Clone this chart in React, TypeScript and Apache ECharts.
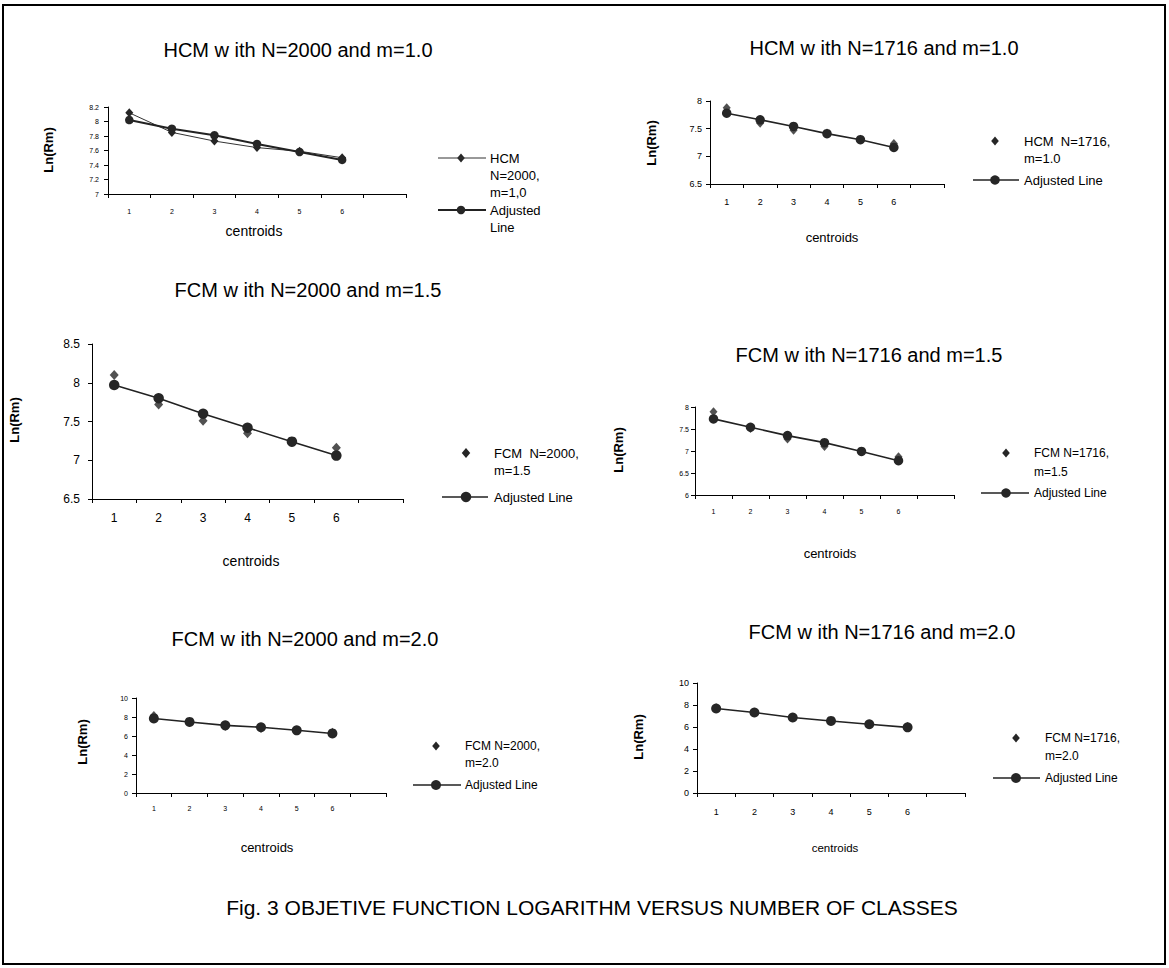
import React, { useEffect, useRef } from "react";
import * as echarts from "echarts";

// ---------- data ----------
const categories = ["1", "2", "3", "4", "5", "6", ""];

const hcmN2000m10 = [8.12, 7.85, 7.73, 7.64, 7.59, 7.5];
const adjN2000m10 = [8.02, 7.9, 7.81, 7.69, 7.58, 7.47];

const hcmN1716m10 = [7.88, 7.6, 7.47, 7.42, 7.31, 7.23];
const adjN1716m10 = [7.78, 7.66, 7.54, 7.41, 7.3, 7.16];

const fcmN2000m15 = [8.1, 7.72, 7.51, 7.35, 7.24, 7.16];
const adjN2000m15 = [7.97, 7.8, 7.6, 7.42, 7.24, 7.06];

const fcmN1716m15 = [7.89, 7.51, 7.27, 7.1, 6.99, 6.87];
const adjN1716m15 = [7.73, 7.54, 7.35, 7.19, 6.99, 6.78];

const fcmN2000m20 = [8.15, 7.45, 7.0, 6.8, 6.55, 6.4];
const adjN2000m20 = [7.85, 7.48, 7.12, 6.92, 6.6, 6.27];

const fcmN1716m20 = [7.75, 7.35, 6.85, 6.55, 6.25, 6.05];
const adjN1716m20 = [7.68, 7.32, 6.86, 6.55, 6.25, 5.97];

const titles = [
  "HCM w ith N=2000 and m=1.0",
  "HCM w ith N=1716 and m=1.0",
  "FCM w ith N=2000 and m=1.5",
  "FCM w ith N=1716 and m=1.5",
  "FCM w ith N=2000 and m=2.0",
  "FCM w ith N=1716 and m=2.0",
];
const pointNames = [
  ["HCM", "N=2000,", "m=1,0"],
  ["HCM  N=1716,", "m=1.0"],
  ["FCM  N=2000,", "m=1.5"],
  ["FCM N=1716,", "m=1.5"],
  ["FCM N=2000,", "m=2.0"],
  ["FCM N=1716,", "m=2.0"],
];
const adjustedName = "Adjusted Line";
const yName = "Ln(Rm)";
const xName = "centroids";
const caption = "Fig. 3 OBJETIVE FUNCTION LOGARITHM VERSUS NUMBER OF CLASSES";

const pointSeries = [hcmN2000m10, hcmN1716m10, fcmN2000m15, fcmN1716m15, fcmN2000m20, fcmN1716m20];
const adjustedSeries = [adjN2000m10, adjN1716m10, adjN2000m15, adjN1716m15, adjN2000m20, adjN1716m20];

// ---------- layout ----------
const FONT = "'Liberation Sans', Arial, Helvetica, sans-serif";
const INK = "#000";
const MARK = "#262626";

type Layout = {
  left: number; top: number; width: number; height: number;
  min: number; max: number; interval: number;
  axisFont: number; xMargin: number; yMargin: number;
  title: [number, number]; yLab: [number, number]; xLab: [number, number]; xLabFont: number;
  circle: number; dia: [number, number];
  legend: { lineX0: number; lineX1: number; markX: number; textX: number; y1: number; y2: number; lh: number; font: number };
  connect: boolean;
};

const layouts: Layout[] = [
  {
    left: 108, top: 107, width: 298, height: 87, min: 7, max: 8.2, interval: 0.2,
    axisFont: 7, xMargin: 14, yMargin: 9,
    title: [298, 50], yLab: [48, 150], xLab: [254, 231], xLabFont: 14,
    circle: 8.5, dia: [8, 9],
    legend: { lineX0: 438, lineX1: 486, markX: 461, textX: 490, y1: 158, y2: 210, lh: 17, font: 13 },
    connect: true,
  },
  {
    left: 710, top: 101, width: 234, height: 83, min: 6.5, max: 8, interval: 0.5,
    axisFont: 9, xMargin: 13, yMargin: 8,
    title: [884, 48], yLab: [651, 143], xLab: [832, 237], xLabFont: 13,
    circle: 9.5, dia: [8, 9],
    legend: { lineX0: 973, lineX1: 1019, markX: 995, textX: 1024, y1: 141, y2: 180, lh: 17, font: 13 },
    connect: false,
  },
  {
    left: 92, top: 344, width: 311, height: 155, min: 6.5, max: 8.5, interval: 0.5,
    axisFont: 12, xMargin: 13, yMargin: 12,
    title: [308, 290], yLab: [14, 420], xLab: [251, 561], xLabFont: 14,
    circle: 10.5, dia: [9, 10],
    legend: { lineX0: 442, lineX1: 488, markX: 466, textX: 494, y1: 453, y2: 497, lh: 17, font: 13 },
    connect: false,
  },
  {
    left: 695, top: 407, width: 259, height: 88, min: 6, max: 8, interval: 0.5,
    axisFont: 7, xMargin: 13, yMargin: 6,
    title: [869, 355], yLab: [618, 450], xLab: [830, 553], xLabFont: 13,
    circle: 9.5, dia: [8, 9],
    legend: { lineX0: 981, lineX1: 1029, markX: 1006, textX: 1034, y1: 453, y2: 493, lh: 19, font: 12 },
    connect: false,
  },
  {
    left: 136, top: 698, width: 250, height: 95, min: 0, max: 10, interval: 2,
    axisFont: 7, xMargin: 12, yMargin: 8,
    title: [305, 639], yLab: [82, 742], xLab: [267, 847], xLabFont: 13,
    circle: 10, dia: [8, 9],
    legend: { lineX0: 413, lineX1: 461, markX: 436, textX: 465, y1: 746, y2: 785, lh: 17, font: 12 },
    connect: false,
  },
  {
    left: 697, top: 683, width: 268, height: 110, min: 0, max: 10, interval: 2,
    axisFont: 9, xMargin: 14, yMargin: 8,
    title: [882, 632], yLab: [638, 737], xLab: [835, 848], xLabFont: 11.5,
    circle: 10, dia: [8, 9],
    legend: { lineX0: 993, lineX1: 1040, markX: 1016, textX: 1045, y1: 738, y2: 778, lh: 18, font: 12 },
    connect: false,
  },
];

function diamond(cx: number, cy: number, r: number) {
  return {
    type: "polygon",
    shape: { points: [[cx, cy - r], [cx + r * 0.85, cy], [cx, cy + r], [cx - r * 0.85, cy]] },
    style: { fill: MARK, stroke: "none" },
  };
}

function text(x: number, y: number, s: string, size: number, extra: any = {}) {
  return {
    type: "text",
    x, y,
    rotation: extra.rotation || 0,
    style: {
      text: s,
      font: `${extra.bold ? "bold " : ""}${size}px ${FONT}`,
      fill: INK,
      align: extra.align || "center",
      verticalAlign: "middle",
      textAlign: extra.align || "center",
      textVerticalAlign: "middle",
    },
  };
}

export default function App() {
  const ref = useRef<HTMLDivElement>(null);

  useEffect(() => {
    if (!ref.current) return;
    const chart = echarts.init(ref.current, undefined, { renderer: "svg" });

    const grid: any[] = [];
    const xAxis: any[] = [];
    const yAxis: any[] = [];
    const series: any[] = [];
    const graphic: any[] = [];

    graphic.push({
      type: "rect",
      shape: { x: 3, y: 5, width: 1162, height: 959 },
      style: { fill: "none", stroke: "#000", lineWidth: 2 },
    });

    layouts.forEach((L, i) => {
      grid.push({ left: L.left, top: L.top, width: L.width, height: L.height, containLabel: false });
      xAxis.push({
        type: "category",
        gridIndex: i,
        data: categories,
        boundaryGap: true,
        axisLine: { lineStyle: { color: INK, width: 1 } },
        axisTick: { show: true, length: 4, lineStyle: { color: INK } },
        axisLabel: { color: INK, fontSize: L.axisFont, fontFamily: FONT, margin: L.xMargin, interval: 0 },
        splitLine: { show: false },
      });
      yAxis.push({
        type: "value",
        gridIndex: i,
        min: L.min,
        max: L.max,
        interval: L.interval,
        axisLine: { show: true, lineStyle: { color: INK, width: 1 } },
        axisTick: { show: true, length: 4, lineStyle: { color: INK } },
        axisLabel: { color: INK, fontSize: L.axisFont, fontFamily: FONT, margin: L.yMargin },
        splitLine: { show: false },
      });
      series.push({
        type: L.connect ? "line" : "scatter",
        xAxisIndex: i,
        yAxisIndex: i,
        data: pointSeries[i],
        symbol: "diamond",
        symbolSize: L.dia,
        itemStyle: { color: MARK },
        lineStyle: { color: "#333", width: 1 },
        z: 2,
      });
      series.push({
        type: "line",
        xAxisIndex: i,
        yAxisIndex: i,
        data: adjustedSeries[i],
        symbol: "circle",
        symbolSize: L.circle,
        showSymbol: true,
        itemStyle: { color: MARK },
        lineStyle: { color: "#222", width: L.connect ? 2 : 1.6 },
        z: 3,
      });

      graphic.push(text(L.title[0], L.title[1], titles[i], 20));
      graphic.push(text(L.yLab[0], L.yLab[1], yName, 13, { bold: true, rotation: Math.PI / 2 }));
      graphic.push(text(L.xLab[0], L.xLab[1], xName, L.xLabFont));

      const lg = L.legend;
      const r = L.circle / 2;
      graphic.push(diamond(lg.markX, lg.y1, L.dia[1] / 2));
      pointNames[i].forEach((s, k) => {
        graphic.push(text(lg.textX, lg.y1 + k * lg.lh, s, lg.font, { align: "left" }));
      });
      if (L.connect) {
        graphic.push({
          type: "line",
          shape: { x1: lg.lineX0, y1: lg.y1, x2: lg.lineX1, y2: lg.y1 },
          style: { stroke: "#333", lineWidth: 1 },
        });
        graphic.push({
          type: "line",
          shape: { x1: lg.lineX0, y1: lg.y2, x2: lg.lineX1, y2: lg.y2 },
          style: { stroke: "#222", lineWidth: 2 },
        });
        graphic.push({ type: "circle", shape: { cx: lg.markX, cy: lg.y2, r }, style: { fill: MARK } });
        graphic.push(text(lg.textX, lg.y2, "Adjusted", lg.font, { align: "left" }));
        graphic.push(text(lg.textX, lg.y2 + lg.lh, "Line", lg.font, { align: "left" }));
      } else {
        graphic.push({
          type: "line",
          shape: { x1: lg.lineX0, y1: lg.y2, x2: lg.lineX1, y2: lg.y2 },
          style: { stroke: "#222", lineWidth: 1.6 },
        });
        graphic.push({ type: "circle", shape: { cx: lg.markX, cy: lg.y2, r }, style: { fill: MARK } });
        graphic.push(text(lg.textX, lg.y2, adjustedName, lg.font, { align: "left" }));
      }
    });

    graphic.push(text(592, 907, caption, 21));

    chart.setOption({
      animation: false,
      backgroundColor: "#fff",
      textStyle: { fontFamily: FONT },
      grid,
      xAxis,
      yAxis,
      series,
      graphic: { elements: graphic },
    });

    return () => chart.dispose();
  }, []);

  return (
    <div
      ref={ref}
      style={{ position: "absolute", left: 0, top: 0, width: 1169, height: 968, background: "#fff" }}
    />
  );
}
